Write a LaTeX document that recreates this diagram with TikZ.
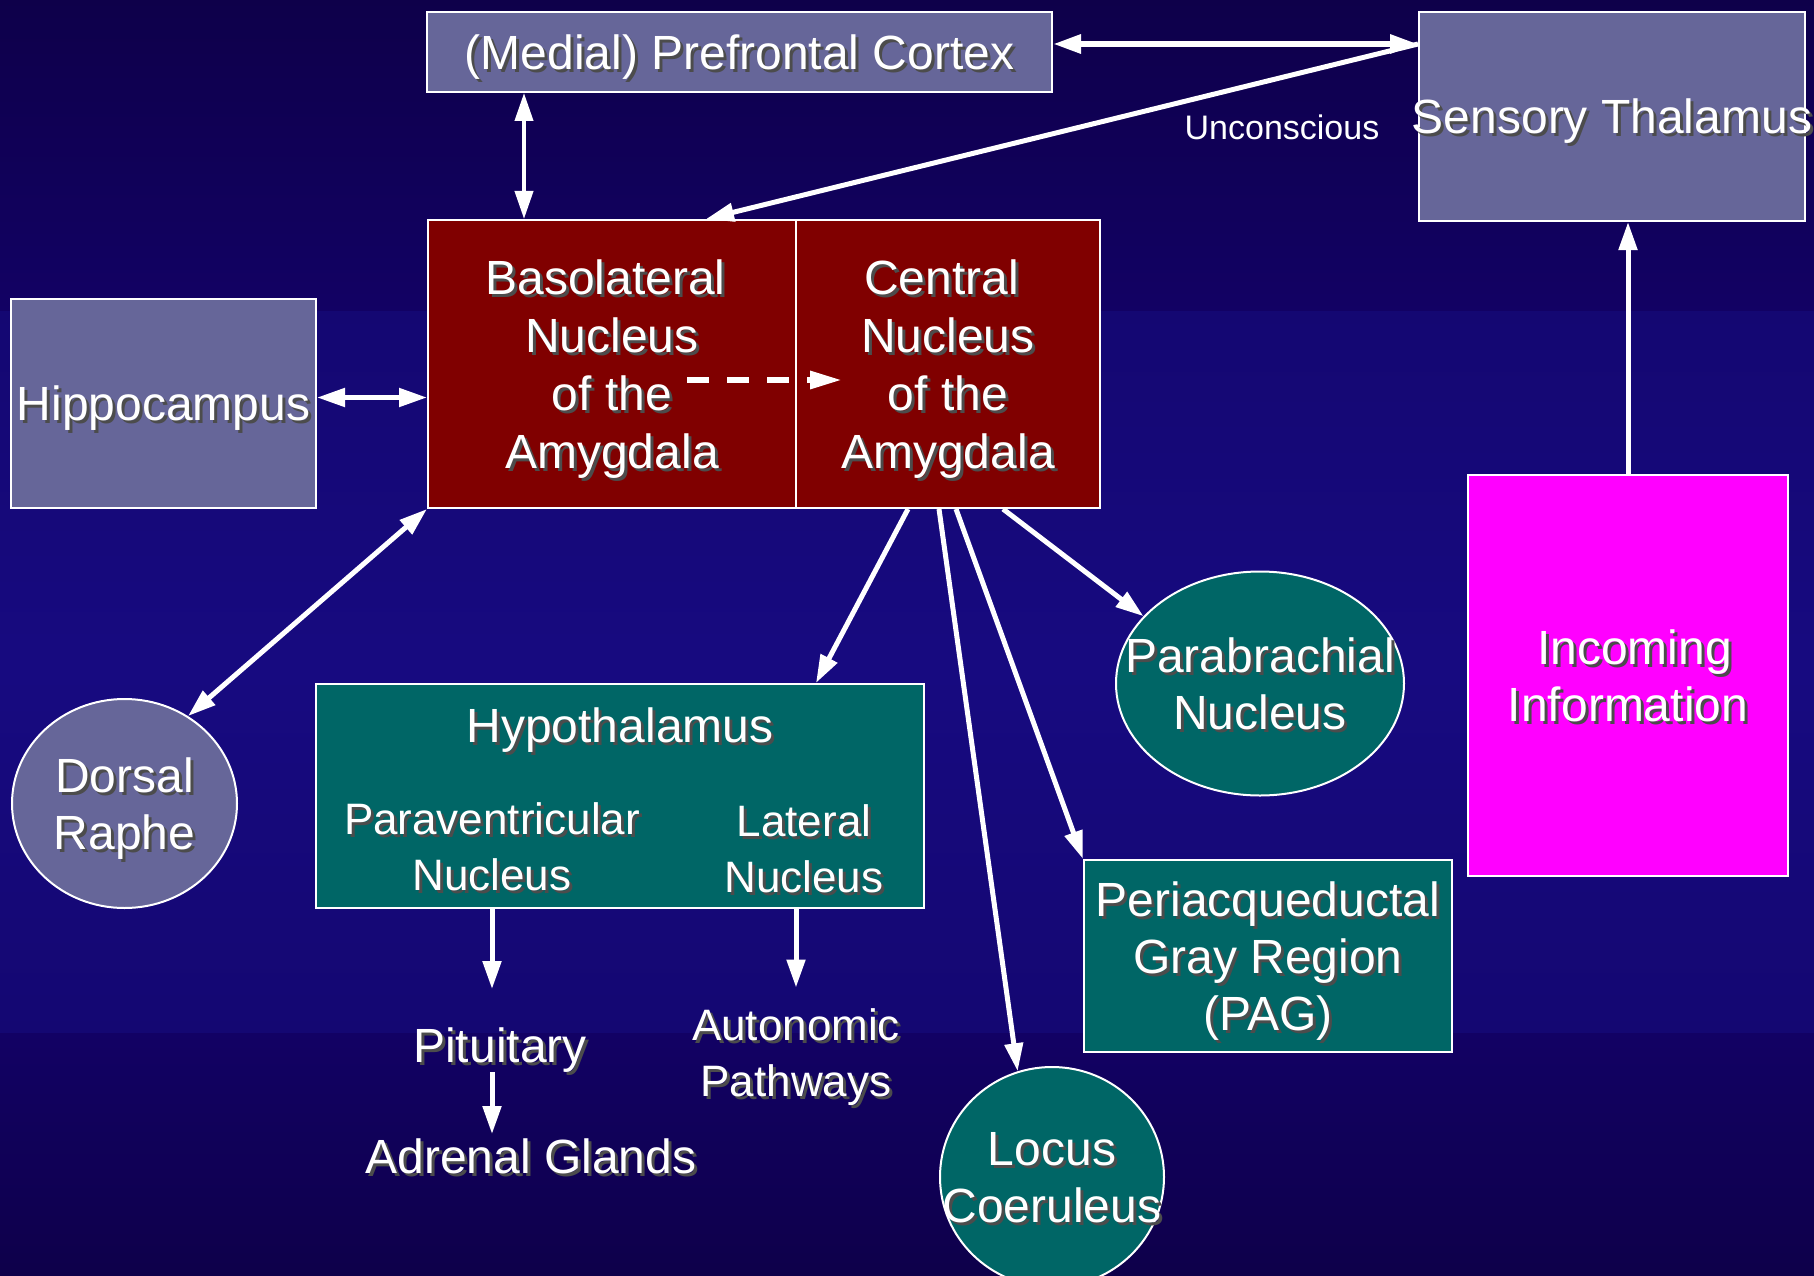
\documentclass[tikz,border=0pt]{standalone}
\usepackage{fontspec}
\setmainfont{Liberation Sans}
\usetikzlibrary{shapes.geometric,arrows.meta,calc}

\definecolor{lavbox}{HTML}{666699}
\definecolor{amyred}{HTML}{800000}
\definecolor{tealbox}{HTML}{006666}
\definecolor{incmag}{HTML}{FF00FF}
\definecolor{bgdark}{RGB}{14,0,74}
\definecolor{bgmid}{RGB}{18,1,100}
\definecolor{bglight}{RGB}{23,10,128}
\definecolor{bgband}{RGB}{20,7,114}

% text with a dark drop shadow
\newcommand{\shd}[1]{\rlap{\kern3pt\raisebox{-3pt}[0pt][0pt]{\color{black!70}#1}}#1}

\begin{document}
\begin{tikzpicture}
[x=1pt,y=-1pt,white,line width=5pt,>={Triangle[length=28pt,width=18pt]},
every node/.style={inner sep=0pt,align=center,text=white,text depth=0pt,font=\fontsize{48}{57}\selectfont},
lav/.style={rectangle,draw=white,line width=2pt,fill=lavbox},
amy/.style={rectangle,draw=white,line width=2pt,fill=amyred,font=\fontsize{48}{58}\selectfont},
tealb/.style={rectangle,draw=white,line width=2pt,fill=tealbox},
mag/.style={rectangle,draw=white,line width=2pt,fill=incmag},
small/.style={font=\fontsize{44}{56}\selectfont}]

\useasboundingbox (0,0) rectangle (1814,1276);
\shade[top color=bgdark,bottom color=bgmid] (0,0) rectangle (1814,311);
\shade[top color=bgband,bottom color=bgband,middle color=bglight] (0,311) rectangle (1814,1033);
\shade[top color=bgmid,bottom color=bgdark] (0,1033) rectangle (1814,1276);

\node[lav,minimum width=625pt,minimum height=80pt] (pfc) at (739.5,52) {\shd{(Medial) Prefrontal Cortex}};
\node[lav,minimum width=386pt,minimum height=209pt,label={center:\shd{Sensory Thalamus}}] (st) at (1612,116.5) {};
\node[font=\fontsize{34}{40}\selectfont] (unc) at (1282,127) {Unconscious};
\node[lav,minimum width=305pt,minimum height=209pt] (hip) at (163.5,403.5) {\shd{Hippocampus}};
\node[amy,minimum width=368pt,minimum height=288pt] (bas) at (612,364)
	{\shd{Basolateral}\kern13pt\\\shd{Nucleus}\\\shd{of the}\\\shd{Amygdala}};
\node[amy,minimum width=304pt,minimum height=288pt] (cen) at (948,364)
	{\shd{Central}\kern13pt\\\shd{Nucleus}\\\shd{of the}\\\shd{Amygdala}};
\node[lav,ellipse,minimum width=225pt,minimum height=209pt,
	label={center:{\shd{Dorsal}\\\shd{Raphe}}}] (dr) at (124.5,803.5) {};

\node[tealb,minimum width=608pt,minimum height=224pt] (hyp) at (620,796) {};
\node (hypt) at (620,725) {\shd{Hypothalamus}};
\node[small] (pvn) at (492,847) {\shd{Paraventricular}\\\shd{Nucleus}};
\node[small] (lat) at (804,849) {\shd{Lateral}\\\shd{Nucleus}};
\node (pit) at (500,1045) {\shd{Pituitary}};
\node (adr) at (531,1156) {\shd{Adrenal Glands}};
\node[small] (aut) at (796,1053) {\shd{Autonomic}\\\shd{Pathways}};

\node[tealb,ellipse,minimum width=288pt,minimum height=224pt,
	label={center:{\shd{Parabrachial}\\\shd{Nucleus}}}] (pb) at (1260,683.5) {};
\node[tealb,minimum width=368pt,minimum height=192pt] (pag) at (1268,956)
	{\shd{Periacqueductal}\\\shd{Gray Region}\\\shd{(PAG)}};
\node[tealb,ellipse,minimum width=224pt,minimum height=220pt,
	label={center:{\shd{Locus}\\\shd{Coeruleus}}}] (lc) at (1052,1177) {};
\node[mag,minimum width=320pt,minimum height=401pt] (inc) at (1628,675.5)
	{\kern13pt\shd{Incoming}\\\shd{Information}};

% top connections
\draw[<->,line width=6pt] ($(pfc.east)+(0,-8)$) coordinate (pfcst) -- (pfcst -| st.west) coordinate (stin);
\draw[->] (stin) -- ($(bas.north)+(94,0)$);
\draw[<->,line width=4pt] ($(bas.north)+(-88,0)$) -- ($(bas.north |- pfc.south)+(-88,0)$);
\draw[->] (inc.north) -- (inc.north |- st.south);

% amygdala
\draw[<->] ($(hip.east)+(0,-6)$) -- ($(hip.east -| bas.west)+(0,-6)$);
\draw[<->] (bas.south west) -- (dr.54);
\draw[->,line width=6pt,dash pattern=on 22pt off 18pt,>={Triangle[length=32pt,width=17pt]}]
	($(bas.east)+(-110,16)$) -- ($(cen.west)+(47,16)$);
\draw[->] ($(cen.south)+(-40,0)$) -- ($(hyp.north)+(196,0)$);
\path
\foreach \sx/\tgt in {-9/lc.108,8/pag.north west,55/pb.150}{
	($(cen.south)+(\sx,0)$) edge[->] (\tgt)
};

% hypothalamus outputs
\draw[->,shorten >=36pt] (pvn |- hyp.south) -- (pvn |- pit.north);
\draw[->,shorten <=7pt,shorten >=2pt] (pvn |- pit.south) -- (pvn |- adr.north);
\draw[->,shorten >=19pt] (aut |- hyp.south) -- (aut.north);
\end{tikzpicture}
\end{document}
